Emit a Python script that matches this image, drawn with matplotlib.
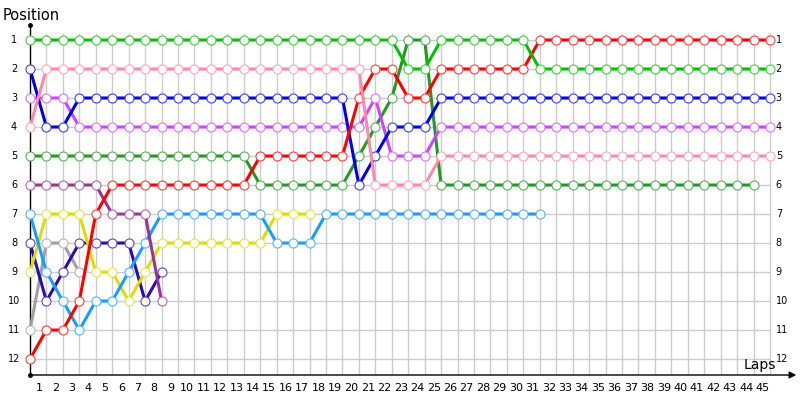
import matplotlib
matplotlib.use("Agg")
import matplotlib.pyplot as plt
from matplotlib.colors import to_rgb

# Race positions per lap (lap 0 = grid)
green = [1, 1, 1, 1, 1, 1, 1, 1, 1, 1, 1, 1, 1, 1, 1, 1, 1, 1, 1, 1, 1, 1, 1, 2, 2,
         1, 1, 1, 1, 1, 1, 2, 2, 2, 2, 2, 2, 2, 2, 2, 2, 2, 2, 2, 2, 2]
red = [12, 11, 11, 10, 7, 6, 6, 6, 6, 6, 6, 6, 6, 6, 5, 5, 5, 5, 5, 5, 3, 2, 2, 3, 3,
       2, 2, 2, 2, 2, 2, 1, 1, 1, 1, 1, 1, 1, 1, 1, 1, 1, 1, 1, 1, 1]
blue = [2, 4, 4, 3, 3, 3, 3, 3, 3, 3, 3, 3, 3, 3, 3, 3, 3, 3, 3, 3, 6, 5, 4, 4, 4,
        3, 3, 3, 3, 3, 3, 3, 3, 3, 3, 3, 3, 3, 3, 3, 3, 3, 3, 3, 3, 3]
pink = [4, 2, 2, 2, 2, 2, 2, 2, 2, 2, 2, 2, 2, 2, 2, 2, 2, 2, 2, 2, 2, 6, 6, 6, 6,
        5, 5, 5, 5, 5, 5, 5, 5, 5, 5, 5, 5, 5, 5, 5, 5, 5, 5, 5, 5, 5]
magenta = [3, 3, 3, 4, 4, 4, 4, 4, 4, 4, 4, 4, 4, 4, 4, 4, 4, 4, 4, 4, 4, 3, 5, 5, 5,
           4, 4, 4, 4, 4, 4, 4, 4, 4, 4, 4, 4, 4, 4, 4, 4, 4, 4, 4, 4, 4]
dkgreen = [5, 5, 5, 5, 5, 5, 5, 5, 5, 5, 5, 5, 5, 5, 6, 6, 6, 6, 6, 6, 5, 4, 3, 1, 1,
           6, 6, 6, 6, 6, 6, 6, 6, 6, 6, 6, 6, 6, 6, 6, 6, 6, 6, 6, 6]
purple = [6, 6, 6, 6, 6, 7, 7, 7, 10]
ltblue = [7, 9, 10, 11, 10, 10, 9, 8, 7, 7, 7, 7, 7, 7, 7, 8, 8, 8, 7, 7, 7, 7, 7, 7,
          7, 7, 7, 7, 7, 7, 7, 7]
yellow = [9, 7, 7, 7, 9, 9, 10, 9, 8, 8, 8, 8, 8, 8, 8, 7, 7, 7]
navy = [8, 10, 9, 8, 8, 8, 8, 10, 9]
gray = [11, 8, 8, 9]

series = [
    (gray, "#a0a0a0"),
    (navy, "#2a0cb0"),
    (yellow, "#dddd00"),
    (ltblue, "#1a9cff"),
    (purple, "#993399"),
    (dkgreen, "#229922"),
    (magenta, "#cc44ff"),
    (blue, "#0000ee"),
    (red, "#ff0000"),
    (pink, "#ff88aa"),
    (green, "#00c000"),
]

n_laps = 45
positions = list(range(1, 13))


def lighter(c, f=0.25):
    r, g, b = to_rgb(c)
    return (r + (1 - r) * f, g + (1 - g) * f, b + (1 - b) * f)


fig = plt.figure(figsize=(8, 4), dpi=100)
ax = fig.add_axes([30 / 800, 25 / 400, 770 / 800, 350 / 400])
ax.set_xlim(0, 770 / 16.444)
ax.set_ylim(12.55, 0.483)
ax.axis("off")

# grid
ax.hlines(positions, 0, n_laps, color="#cccccc", lw=1, zorder=0)
ax.vlines(range(1, n_laps + 1), 0.76, 12.55, color="#cccccc", lw=1, zorder=0)

# axes with arrows
ax.plot([0, 0], [12.55, 0.48], color="black", lw=1, clip_on=False)
ax.plot([0], [0.48], "o", color="black", ms=2.5, clip_on=False)
ax.plot([0], [12.55], "o", color="black", ms=2.5, clip_on=False)
ax.annotate("", xy=(46.6, 12.55), xytext=(0, 12.55),
            arrowprops=dict(arrowstyle="-|>", color="black", lw=1,
                            mutation_scale=10, shrinkA=0, shrinkB=0),
            annotation_clip=False)

for p, c in series:
    ax.plot(range(len(p)), p, "-o", color=c, lw=2.2, ms=6.5,
            mfc="white", mec=lighter(c), mew=0.8, clip_on=False)

for k in range(1, n_laps + 1):
    ax.text(k - 0.45, 13.0, str(k), ha="center", va="center", fontsize=8,
            family="DejaVu Sans", clip_on=False)

for pos in positions:
    ax.text(-0.97, pos, str(pos), ha="center", va="center", fontsize=7, clip_on=False)
    ax.text(45.35, pos, str(pos), ha="left", va="center", fontsize=7, clip_on=False)

ax.text(-1.64, 0.14, "Position", ha="left", va="center", fontsize=10.5, clip_on=False)
ax.text(44.4, 12.2, "Laps", ha="center", va="center", fontsize=10, clip_on=False)

fig.savefig("out.png", dpi=100)
